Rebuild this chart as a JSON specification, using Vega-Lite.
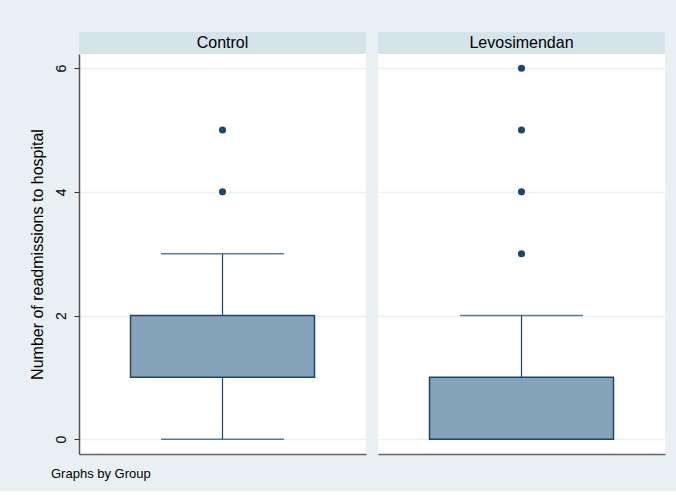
{
  "$schema": "https://vega.github.io/schema/vega-lite/v6.json",
  "background": "#e8f0f3",
  "padding": {"left": 29, "top": 32, "right": 11, "bottom": 10},
  "datasets": {
    "boxes": [
      {"group": "Control", "lower": 0, "q1": 1, "q3": 2, "upper": 3},
      {"group": "Levosimendan", "lower": 0, "q1": 0, "q3": 1, "upper": 2}
    ],
    "outliers": [
      {"group": "Control", "value": 4},
      {"group": "Control", "value": 5},
      {"group": "Levosimendan", "value": 3},
      {"group": "Levosimendan", "value": 4},
      {"group": "Levosimendan", "value": 5},
      {"group": "Levosimendan", "value": 6}
    ]
  },
  "title": {
    "text": "Graphs by Group",
    "orient": "bottom",
    "anchor": "start",
    "fontSize": 13,
    "fontWeight": "normal",
    "color": "#000000",
    "offset": 14,
    "dx": 22
  },
  "hconcat": [
    {
      "spacing": 0,
      "vconcat": [
        {
          "width": 287,
          "height": 22,
          "view": {"fill": "#d5e4eb", "stroke": null},
          "data": {"name": "boxes"},
          "transform": [{"filter": "datum.group === 'Control'"}],
          "mark": {"type": "text", "fontSize": 16, "color": "#000000", "baseline": "middle", "align": "center"},
          "encoding": {"text": {"field": "group", "type": "nominal"}}
        },
        {
          "width": 287,
          "height": 400,
          "view": {"fill": "#ffffff", "stroke": null},
          "layer": [
            {
              "data": {"name": "boxes"},
              "transform": [{"filter": "datum.group === 'Control'"}],
              "mark": {"type": "rule", "color": "#1a476f", "strokeWidth": 1.2},
              "encoding": {
                "x": {"field": "group", "type": "nominal", "title": null, "axis": {"labels": false, "ticks": false, "domainColor": "#666666", "domainWidth": 1.5, "grid": false}},
                "y": {"field": "lower", "type": "quantitative", "scale": {"domain": [-0.24, 6.23], "nice": false, "zero": false},
                  "axis": {"values": [0, 2, 4, 6], "format": "d", "title": "Number of readmissions to hospital", "titleFontSize": 16, "titleFontWeight": "normal", "titleColor": "#000000", "titlePadding": 9, "labelAngle": -90, "labelFontSize": 14, "labelColor": "#000000", "labelPadding": 6, "tickSize": 5, "tickColor": "#333333", "domainColor": "#555555", "domainWidth": 1.5, "grid": true, "gridColor": "#eaf2f3", "gridWidth": 1.5}},
                "y2": {"field": "upper"}
              }
            },
            {
              "data": {"name": "boxes"},
              "transform": [{"filter": "datum.group === 'Control'"}],
              "mark": {"type": "tick", "color": "#1a476f", "size": 123, "thickness": 1.5},
              "encoding": {
                "x": {"field": "group", "type": "nominal"},
                "y": {"field": "upper", "type": "quantitative"}
              }
            },
            {
              "data": {"name": "boxes"},
              "transform": [{"filter": "datum.group === 'Control'"}],
              "mark": {"type": "tick", "color": "#1a476f", "size": 123, "thickness": 1.5},
              "encoding": {
                "x": {"field": "group", "type": "nominal"},
                "y": {"field": "lower", "type": "quantitative"}
              }
            },
            {
              "data": {"name": "boxes"},
              "transform": [{"filter": "datum.group === 'Control'"}],
              "mark": {"type": "bar", "size": 184, "fill": "#85a3b8", "stroke": "#1a476f", "strokeWidth": 1.5},
              "encoding": {
                "x": {"field": "group", "type": "nominal"},
                "y": {"field": "q1", "type": "quantitative"},
                "y2": {"field": "q3"}
              }
            },
            {
              "data": {"name": "outliers"},
              "transform": [{"filter": "datum.group === 'Control'"}],
              "mark": {"type": "point", "filled": true, "opacity": 1, "size": 50, "color": "#1a476f"},
              "encoding": {
                "x": {"field": "group", "type": "nominal"},
                "y": {"field": "value", "type": "quantitative"}
              }
            }
          ]
        }
      ]
    },
    {
      "spacing": 0,
      "vconcat": [
        {
          "width": 287,
          "height": 22,
          "view": {"fill": "#d5e4eb", "stroke": null},
          "data": {"name": "boxes"},
          "transform": [{"filter": "datum.group === 'Levosimendan'"}],
          "mark": {"type": "text", "fontSize": 16, "color": "#000000", "baseline": "middle", "align": "center"},
          "encoding": {"text": {"field": "group", "type": "nominal"}}
        },
        {
          "width": 287,
          "height": 400,
          "view": {"fill": "#ffffff", "stroke": null},
          "layer": [
            {
              "data": {"name": "boxes"},
              "transform": [{"filter": "datum.group === 'Levosimendan'"}],
              "mark": {"type": "rule", "color": "#1a476f", "strokeWidth": 1.2},
              "encoding": {
                "x": {"field": "group", "type": "nominal", "title": null, "axis": {"labels": false, "ticks": false, "domainColor": "#666666", "domainWidth": 1.5, "grid": false}},
                "y": {"field": "lower", "type": "quantitative", "scale": {"domain": [-0.24, 6.23], "nice": false, "zero": false},
                  "axis": {"values": [0, 2, 4, 6], "title": null, "labels": false, "ticks": false, "domain": false, "grid": true, "gridColor": "#eaf2f3", "gridWidth": 1.5}},
                "y2": {"field": "upper"}
              }
            },
            {
              "data": {"name": "boxes"},
              "transform": [{"filter": "datum.group === 'Levosimendan'"}],
              "mark": {"type": "tick", "color": "#1a476f", "size": 123, "thickness": 1.5},
              "encoding": {
                "x": {"field": "group", "type": "nominal"},
                "y": {"field": "upper", "type": "quantitative"}
              }
            },
            {
              "data": {"name": "boxes"},
              "transform": [{"filter": "datum.group === 'Levosimendan'"}],
              "mark": {"type": "tick", "color": "#1a476f", "size": 123, "thickness": 1.5},
              "encoding": {
                "x": {"field": "group", "type": "nominal"},
                "y": {"field": "lower", "type": "quantitative"}
              }
            },
            {
              "data": {"name": "boxes"},
              "transform": [{"filter": "datum.group === 'Levosimendan'"}],
              "mark": {"type": "bar", "size": 184, "fill": "#85a3b8", "stroke": "#1a476f", "strokeWidth": 1.5},
              "encoding": {
                "x": {"field": "group", "type": "nominal"},
                "y": {"field": "q1", "type": "quantitative"},
                "y2": {"field": "q3"}
              }
            },
            {
              "data": {"name": "outliers"},
              "transform": [{"filter": "datum.group === 'Levosimendan'"}],
              "mark": {"type": "point", "filled": true, "opacity": 1, "size": 50, "color": "#1a476f"},
              "encoding": {
                "x": {"field": "group", "type": "nominal"},
                "y": {"field": "value", "type": "quantitative"}
              }
            }
          ]
        }
      ]
    }
  ],
  "spacing": 12,
  "config": {
    "font": "Liberation Sans",
    "view": {"stroke": null},
    "axis": {"labelFont": "Liberation Sans", "titleFont": "Liberation Sans"},
    "title": {"font": "Liberation Sans"}
  }
}
